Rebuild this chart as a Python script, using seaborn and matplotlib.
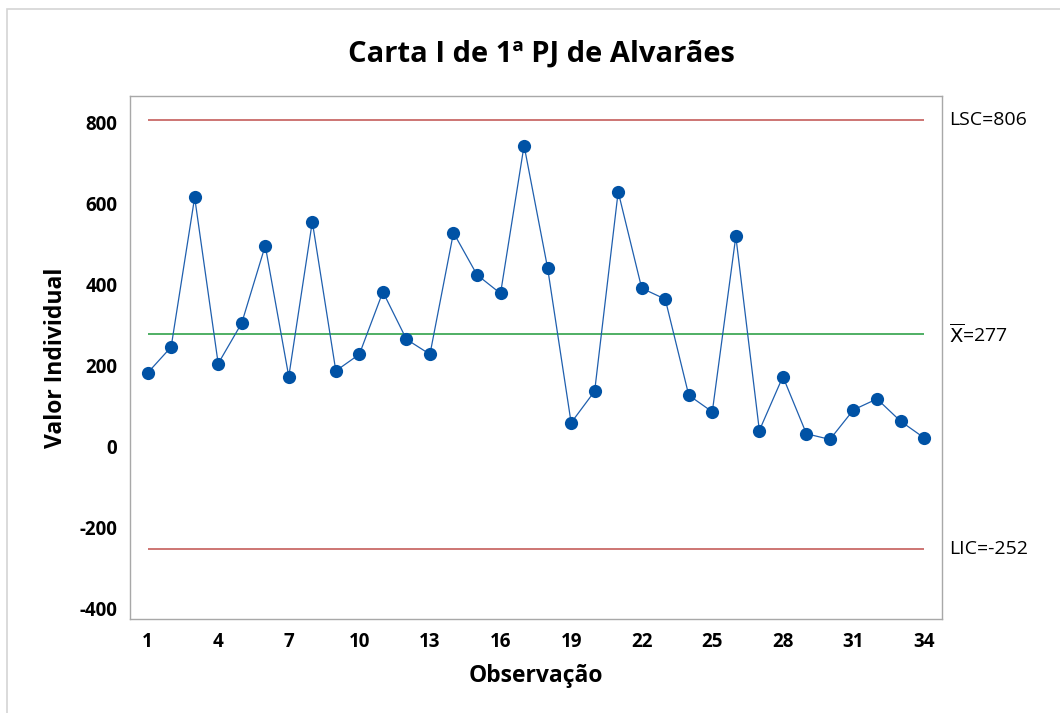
import numpy as np
import pandas as pd
import matplotlib
matplotlib.use("Agg")
import matplotlib.pyplot as plt
import seaborn as sns

# valores individuais
observacao = list(range(1, 35))
valores = [182, 246, 615, 205, 305, 496, 173, 555, 187, 228,
           382, 265, 228, 528, 424, 378, 743, 441, 59, 137,
           629, 391, 364, 127, 86, 519, 40, 173, 32, 18,
           91, 118, 63, 22]

# limites de controle
lsc = 806
media = 277
lic = -252
x_ticks = [1, 4, 7, 10, 13, 16, 19, 22, 25, 28, 31, 34]
y_ticks = [-400, -200, 0, 200, 400, 600, 800]

df = pd.DataFrame({"Observação": observacao, "Valor Individual": valores})

sns.set_style("white")
plt.rcParams['font.family'] = ['Open Sans', 'DejaVu Sans']
plt.rcParams['axes.unicode_minus'] = False
plt.rcParams['text.color'] = 'black'
plt.rcParams['axes.labelcolor'] = 'black'

fig = plt.figure(figsize=(10.6, 7.13), dpi=100)
ax = fig.add_axes([0.1226, 0.1318, 0.7658, 0.7335])

# moldura externa
fig.patches.append(plt.Rectangle((7 / 1060, -0.05), 1.1, 1 - 8.5 / 713 + 0.05,
                                 transform=fig.transFigure, fill=False,
                                 edgecolor="#d4d4d4", linewidth=1.2))

ax.hlines(lsc, 1, 34, color="#c0504d", linewidth=1.1)
ax.hlines(lic, 1, 34, color="#c0504d", linewidth=1.1)
ax.hlines(media, 1, 34, color="#1f9a3a", linewidth=1.1)

sns.lineplot(data=df, x="Observação", y="Valor Individual", ax=ax,
             color="#1f5fae", linewidth=0.9, marker="o", markersize=9.5,
             markerfacecolor="#0052a5", markeredgewidth=0)

ax.set_xlim(0.25, 34.75)
ax.set_ylim(-425, 865)
ax.set_xticks(x_ticks)
ax.set_yticks(y_ticks)
ax.tick_params(axis="both", direction="out", length=5, width=1, color="#a0a0a0",
               labelcolor="black", labelsize=13.5, pad=4)
for lbl in ax.get_xticklabels() + ax.get_yticklabels():
    lbl.set_fontweight("bold")

for s in ax.spines.values():
    s.set_color("#a8a8a8")
    s.set_linewidth(1)

ax.set_xlabel("Observação", fontsize=16.5, fontweight="bold", labelpad=9)
ax.set_ylabel("Valor Individual", fontsize=16.5, fontweight="bold", labelpad=8)
fig.suptitle("Carta I de 1ª PJ de Alvarães", fontsize=21, fontweight="bold",
             x=0.511, y=0.945)

trans = ax.get_yaxis_transform()
ax.text(1.009, lsc, "LSC=806", transform=trans, va="center", ha="left", fontsize=14)
ax.text(1.009, media, r"$\overline{\mathrm{X}}$=277", transform=trans, va="center",
        ha="left", fontsize=14)
ax.text(1.009, lic, "LIC=-252", transform=trans, va="center", ha="left", fontsize=14)

fig.savefig("out.png", dpi=100)
